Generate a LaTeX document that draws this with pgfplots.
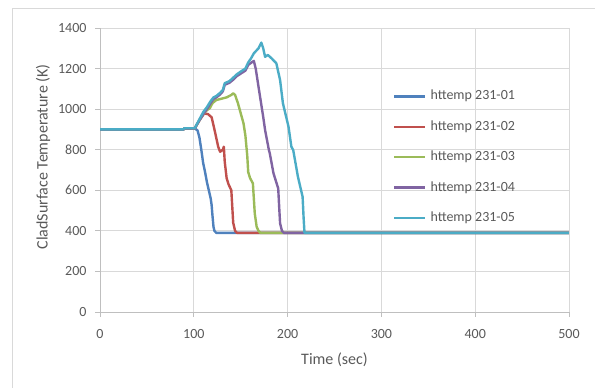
\documentclass[border=0pt]{standalone}
\usepackage{pgfplots}
\pgfplotsset{compat=1.18}
\usepackage{fontspec}
\setmainfont{Carlito}
\definecolor{c1}{HTML}{4F81BD}
\definecolor{c2}{HTML}{C0504D}
\definecolor{c3}{HTML}{9BBB59}
\definecolor{c4}{HTML}{8064A2}
\definecolor{c5}{HTML}{4BACC6}
\definecolor{gridc}{HTML}{D9D9D9}
\definecolor{axc}{HTML}{BFBFBF}
\definecolor{txt}{HTML}{595959}
\begin{document}
\begin{tikzpicture}[x=1pt,y=1pt]
\useasboundingbox (0,0) rectangle (595,388);
\draw[draw=gridc, line width=1pt] (12,0) -- (12,379) -- (595,379);
\begin{axis}[
  at={(100pt,76pt)}, anchor=south west,
  width=469pt, height=284pt, scale only axis,
  xmin=0, xmax=500, ymin=0, ymax=1400,
  xtick={0,100,...,500}, ytick={0,200,...,1400},
  grid=major, major grid style={draw=gridc, line width=0.9pt},
  axis x line=bottom, axis y line=left,
  axis line style={draw=axc, line width=0.9pt, -},
  tick align=outside, major tick length=5pt,
  tick style={draw=axc, line width=0.9pt},
  ticklabel style={font=\fontsize{14}{16}\selectfont, text=txt},
  xticklabel style={yshift=-9pt},
  yticklabel style={xshift=-5pt},
  /pgf/number format/assume math mode=true,
  /pgf/number format/1000 sep={},
  xlabel={Time (sec)},
  ylabel={CladSurface Temperature (K)},
  label style={font=\fontsize{16}{18}\selectfont, text=txt},
  xlabel style={at={(axis description cs:0.5,-0.169)}, anchor=center},
  ylabel style={at={(axis description cs:-0.1215,0.546)}, anchor=center},
  legend style={at={(axis description cs:0.6247,0.783)}, anchor=north west,
    draw=none, fill=none, inner sep=0pt, row sep=17.4pt, column sep=4pt,
    font=\fontsize{14}{16}\selectfont, text=txt,
    nodes={inner sep=0pt, text height=10pt, text depth=3pt}},
  legend cell align=left,
  legend image code/.code={\draw[#1] (0pt,0pt) -- (31pt,0pt);},
  every axis plot/.append style={line width=2.4pt, line join=round},
]
\addplot[c1] coordinates {(0,900)(89,900)(90,905)(101,905)(104,895)(106,860)(108,800)(110,734)(112,690)(114,640)(116,600)(118,560)(119,527)(120,470)(121,420)(122,400)(124,390)(500,390)};
\addlegendentry{httemp 231-01}
\addplot[c2] coordinates {(0,900)(89,900)(90,905)(101,905)(106,945)(109,965)(111,978)(115,976)(117,968)(119,960)(122,900)(126,815)(128,790)(131,800)(132,815)(133,740)(135,660)(137,630)(140,600)(142,440)(144,400)(146,390)(500,390)};
\addlegendentry{httemp 231-02}
\addplot[c3] coordinates {(0,900)(89,900)(90,905)(101,905)(106,945)(110,975)(114,995)(117,1004)(120,1030)(124,1045)(130,1052)(135,1058)(140,1070)(142,1078)(144,1070)(147,1030)(150,980)(153,930)(155,870)(157,770)(158,690)(160,660)(163,634)(164,560)(165,486)(167,420)(169,400)(171,390)(500,390)};
\addlegendentry{httemp 231-03}
\addplot[c4] coordinates {(0,900)(89,900)(90,905)(101,905)(106,945)(110,975)(114,1000)(118,1030)(121,1050)(124,1058)(128,1072)(131,1088)(133,1120)(138,1130)(142,1145)(146,1163)(150,1175)(155,1190)(158,1218)(161,1228)(164,1238)(166,1200)(169,1110)(174,962)(176,897)(180,800)(181,782)(185,683)(190,609)(191,520)(192,437)(194,400)(196,390)(500,390)};
\addlegendentry{httemp 231-04}
\addplot[c5] coordinates {(0,900)(89,900)(90,906)(101,906)(106,950)(110,985)(114,1010)(118,1040)(121,1058)(124,1065)(128,1080)(131,1095)(133,1128)(138,1138)(142,1155)(146,1172)(150,1185)(155,1200)(158,1230)(161,1250)(164,1275)(169,1300)(172,1328)(174,1300)(176,1258)(179,1267)(183,1250)(188,1226)(192,1143)(195,1029)(201,913)(204,815)(206,798)(211,667)(216,568)(217,470)(218,390)(500,390)};
\addlegendentry{httemp 231-05}
\end{axis}
\end{tikzpicture}
\end{document}
